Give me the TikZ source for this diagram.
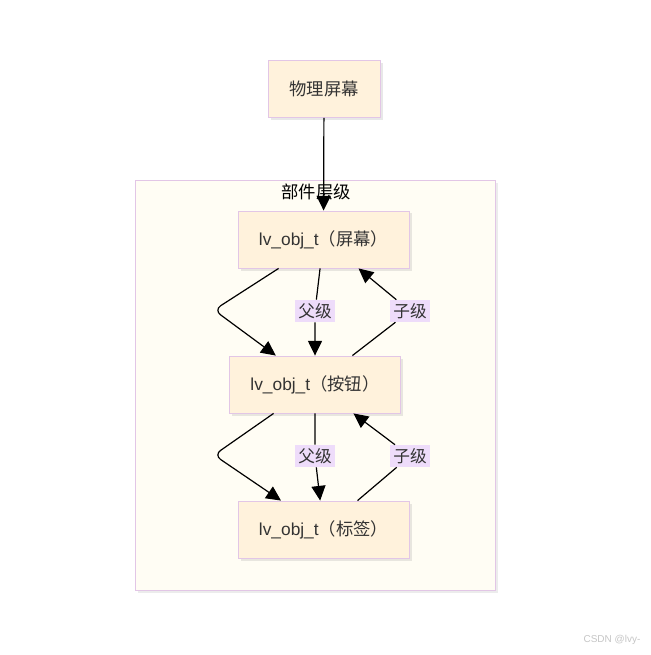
\documentclass[tikz,border=0pt]{standalone}
\usepackage{fontspec}
\setmainfont{Liberation Sans}
\newfontfamily\cjk{Noto Sans CJK SC}
\usetikzlibrary{arrows.meta,shadows}
\definecolor{boxfill}{HTML}{FFF2DC}
\definecolor{boxline}{HTML}{E2C6E6}
\definecolor{grpfill}{HTML}{FFFDF4}
\definecolor{lblfill}{HTML}{EEDCFA}
\definecolor{txt}{HTML}{333333}
\begin{document}
\begin{tikzpicture}[x=0.75pt,y=-0.75pt,
  box/.style={draw=boxline,fill=boxfill,minimum width=128pt,minimum height=43pt,
    text=txt,font=\fontsize{13}{15}\selectfont,
    drop shadow={opacity=0.18,shadow xshift=2pt,shadow yshift=-2pt}},
  lbl/.style={fill=lblfill,inner sep=2.5pt,text=txt,font=\cjk\fontsize{12.5}{14}\selectfont},
  arr/.style={draw=black,line width=0.9pt,-{Triangle[length=11pt,width=10.5pt]}}]
\fill[white] (0,0) rectangle (650,655);
\useasboundingbox (0,0) rectangle (650,655);
% group
\draw[draw=boxline,fill=grpfill,drop shadow={opacity=0.15,shadow xshift=2pt,shadow yshift=-2pt}]
    (135,180) rectangle (495,590);
\node[font=\cjk\fontsize{13}{15}\selectfont] (ttl) at (316,192) {部件层级};
% nodes
\node[box,minimum width=84pt] (ps) at (324,89) {{\cjk 物理屏幕}};
\node[box] (s1) at (323.5,239.5) {lv\_obj\_t{\cjk（屏幕）}};
\node[box] (s2) at (315,384.5) {lv\_obj\_t{\cjk（按钮）}};
\node[box] (s3) at (323.5,529.5) {lv\_obj\_t{\cjk（标签）}};
\coordinate (c1) at (214,310);
\coordinate (c2) at (214,455);
\node[lbl] (p1) at (315,311) {父级};
\node[lbl] (k1) at (410,311) {子级};
\node[lbl] (p2) at (315,456) {父级};
\node[lbl] (k2) at (410,456) {子级};
% links
\path[arr] (ps) edge (s1);
\draw[arr,rounded corners=6pt] (s1) -- (c1) -- (s2);
\draw[arr] (s1) -- (p1) -- (s2);
\draw[arr] (s2) -- (k1) -- (s1);
\draw[arr,rounded corners=6pt] (s2) -- (c2) -- (s3);
\draw[arr] (s2) -- (p2) -- (s3);
\draw[arr] (s3) -- (k2) -- (s2);
\node[text=gray!45,font=\fontsize{7.5}{9}\selectfont] (wm) at (612,640) {CSDN @lvy-};
\end{tikzpicture}
\end{document}
